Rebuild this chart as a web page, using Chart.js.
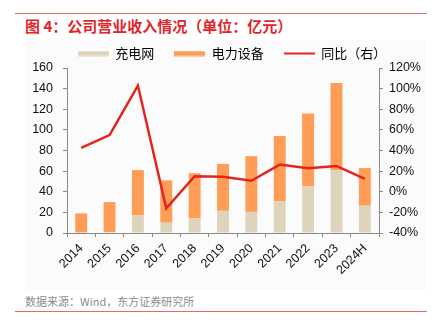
<!DOCTYPE html>
<html>
<head>
<meta charset="utf-8">
<script src="https://cdn.jsdelivr.net/npm/chart.js@4"></script>
<style>
  body { margin: 0; width: 437px; height: 328px; background: #fff; position: relative; overflow: hidden;
         font-family: "Liberation Sans", "Noto Sans CJK SC", sans-serif; }
  .rule { position: absolute; left: 15px; width: 412px; height: 1px; background: #e46a6a; }
  #title { position: absolute; left: 25px; top: 15px; font: bold 15px "Noto Sans CJK SC", sans-serif; color: #e0262b; white-space: nowrap; }
  #box { position: absolute; left: 25px; top: 40px; width: 400px; height: 250px; background: #fbfbfb; }
  #source { position: absolute; left: 25px; top: 293px; font: 11px "Noto Sans CJK SC", sans-serif; color: #8c8c8c; white-space: nowrap; }
</style>
</head>
<body>
<div class="rule" style="top:13px"></div>
<div id="title">图 4：公司营业收入情况（单位：亿元）</div>
<div id="box"><canvas id="chart" width="400" height="250"></canvas></div>
<div id="source">数据来源：Wind，东方证券研究所</div>
<div class="rule" style="top:311px"></div>
<script>
const years = ["2014", "2015", "2016", "2017", "2018", "2019", "2020", "2021", "2022", "2023", "2024H"];
const chargingNet = [0, 1, 17, 10, 14, 21.5, 20.5, 30.5, 45, 60.5, 26.5];
const powerEquip = [19, 29, 44, 41, 44, 45.5, 54, 63.5, 71, 85, 36.5];
const yoy = [42.5, 55, 103, -16, 15, 14.5, 10.7, 26.3, 22.8, 25, 12.4];

const beige = "#ded4bc";
const orange = "#ff9c55";
const red = "#e1251f";

function swatch(color, h) {
  const c = document.createElement("canvas");
  c.width = 31;
  c.height = 6;
  const ctx = c.getContext("2d");
  ctx.fillStyle = color;
  ctx.fillRect(0, (6 - h) / 2, 31, h);
  return c;
}

const tickFont = { family: "'Liberation Sans', Arial, sans-serif", size: 12.5 };

new Chart(document.getElementById("chart"), {
  type: "bar",
  data: {
    labels: years,
    datasets: [
      { label: "充电网", data: chargingNet, backgroundColor: beige, yAxisID: "y", stack: "s", order: 2,
        barPercentage: 0.42, categoryPercentage: 1, legendImg: swatch(beige, 5) },
      { label: "电力设备", data: powerEquip, backgroundColor: orange, yAxisID: "y", stack: "s", order: 2,
        barPercentage: 0.42, categoryPercentage: 1, legendImg: swatch(orange, 5) },
      { label: "同比（右）", type: "line", data: yoy, borderColor: red, borderWidth: 2.5, pointRadius: 0,
        tension: 0, yAxisID: "y2", order: 1, legendImg: swatch(red, 2) },
    ],
  },
  options: {
    responsive: false,
    animation: false,
    layout: { padding: 0 },
    plugins: {
      tooltip: { enabled: false },
      legend: {
        labels: {
          color: "#222",
          font: { family: "'Noto Sans CJK SC', sans-serif", size: 13 },
          usePointStyle: true,
          pointStyleWidth: 31,
          padding: 7,
          // ideographic space after the first two labels widens the gap between items
          generateLabels: (chart) =>
            chart.data.datasets.map((ds, i) => ({
              text: i < 2 ? ds.label + "\u3000" : ds.label,
              pointStyle: ds.legendImg,
              fillStyle: "transparent",
              strokeStyle: "transparent",
              lineWidth: 0,
              datasetIndex: i,
            })),
        },
      },
    },
    scales: {
      x: {
        stacked: true,
        offset: true,
        border: { color: "#888", width: 1 },
        grid: { display: true, drawOnChartArea: false, offset: true, color: "#888", tickLength: 4 },
        ticks: { color: "#111", font: tickFont, minRotation: 45, maxRotation: 45, padding: 4 },
        afterFit: (s) => { s.height = 57; },
      },
      y: {
        position: "left",
        stacked: true,
        min: 0,
        max: 160,
        border: { color: "#888", width: 1 },
        grid: { drawOnChartArea: false, color: "#888", tickLength: 4 },
        ticks: { stepSize: 20, color: "#111", font: tickFont, padding: 10 },
        afterFit: (s) => { s.width = 42; },
      },
      y2: {
        position: "right",
        min: -40,
        max: 120,
        border: { color: "#888", width: 1 },
        grid: { drawOnChartArea: false, color: "#888", tickLength: 4 },
        ticks: { stepSize: 20, color: "#111", font: tickFont, padding: 6, callback: (v) => v + "%" },
        afterFit: (s) => { s.width = 46; },
      },
    },
  },
  plugins: [{
    id: "legendTweak",
    beforeInit(chart) {
      const legend = chart.legend;
      const fit = legend.fit;
      legend.fit = function () {
        fit.call(this);
        this.height = 28;
      };
      // nudge the legend a little to the right, like the original
      const draw = legend.draw;
      legend.draw = function () {
        this.ctx.save();
        this.ctx.translate(7, 0);
        draw.call(this);
        this.ctx.restore();
      };
    },
  }],
});
</script>
</body>
</html>
